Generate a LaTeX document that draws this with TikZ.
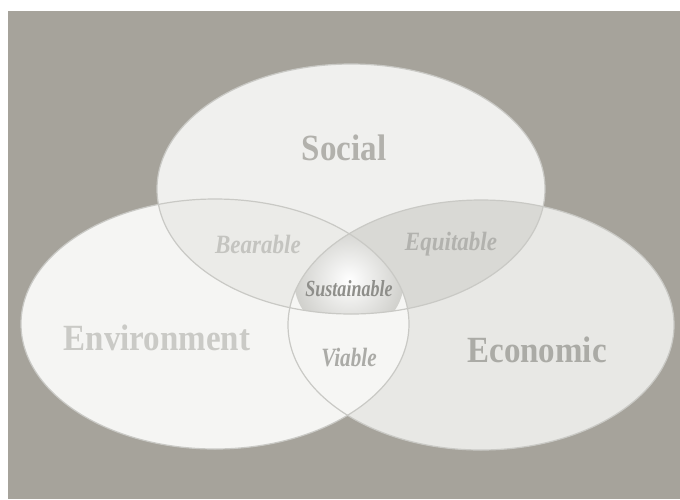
\documentclass[tikz,border=0pt]{standalone}
\usepackage{fontspec}
\setmainfont{Liberation Serif}
\usetikzlibrary{positioning}

\definecolor{bggray}{HTML}{A6A39B}
\definecolor{socfill}{HTML}{F0F0EE}
\definecolor{envfill}{HTML}{F5F5F3}
\definecolor{ecofill}{HTML}{E8E8E5}
\definecolor{bearfill}{HTML}{EBEBE8}
\definecolor{equifill}{HTML}{D9D9D5}
\definecolor{viafill}{HTML}{F6F6F4}
\definecolor{susgray}{HTML}{D0D0CC}
\definecolor{rimgray}{HTML}{C9C9C5}
\definecolor{soctext}{HTML}{B2B1AC}
\definecolor{envtext}{HTML}{CACAC6}
\definecolor{ecotext}{HTML}{ABABA6}
\definecolor{beartext}{HTML}{C4C4C0}
\definecolor{equitext}{HTML}{B2B2AE}
\definecolor{sustext}{HTML}{8E8E8A}
\definecolor{viatext}{HTML}{ABABA7}

\begin{document}
\begin{tikzpicture}
    [%%%%%%%%%%%%%%%%%%%%%%%%%%%%%%
    x=1pt,y=-1pt,
    big/.style={font=\fontsize{33}{33}\selectfont\bfseries,yscale=1.12},
    small/.style={font=\fontsize{24}{24}\selectfont\bfseries\itshape,xscale=0.96,yscale=1.1},
    rim/.style={draw=rimgray,line width=1.2pt},
    ]%%%%%%%%%%%%%%%%%%%%%%%%%%%%%%

    \useasboundingbox (0,0) rectangle (680,499);
    \fill[bggray] (8,11) rectangle (680,499);

    % centres
    \coordinate (soc) at (351,189);
    \coordinate (env) at (215,324);
    \coordinate (eco) at (481,325);

    % sets
    \fill[envfill] (env) ellipse (194 and 125);
    \fill[ecofill] (eco) ellipse (193 and 125);
    \fill[socfill] (soc) ellipse (194 and 125);

    % overlaps
    \begin{scope}
        \clip (soc) ellipse (194 and 125);
        \fill[bearfill] (env) ellipse (194 and 125);
        \fill[equifill] (eco) ellipse (193 and 125);
    \end{scope}
    \begin{scope}
        \clip (env) ellipse (194 and 125);
        \fill[viafill] (eco) ellipse (193 and 125);
        \clip (eco) ellipse (193 and 125);
        \clip (soc) ellipse (194 and 125);
        \shade[inner color=white,outer color=susgray] (349,280) circle (55);
    \end{scope}

    % rims
    \draw[rim] (env) ellipse (194 and 125);
    \draw[rim] (eco) ellipse (193 and 125);
    \draw[rim] (soc) ellipse (194 and 125);

    % labels
    \node[big,text=soctext] at (344,148) (social) {Social};
    \node[big,text=envtext] at (157,338) (environment) {Environment};
    \node[big,text=ecotext] at (537,350) (economic) {Economic};
    \node[small,text=beartext] at (258,244) (bearable) {Bearable};
    \node[small,text=equitext] at (451,244) (equitable) {Equitable};
    \node[small,text=viatext,xscale=0.92] at (349,358) (viable) {Viable};
    \node[font=\fontsize{21}{21}\selectfont\bfseries\itshape,text=sustext,xscale=0.86,yscale=1.1] at (349,289) (sustainable) {Sustainable};

\end{tikzpicture}
\end{document}
